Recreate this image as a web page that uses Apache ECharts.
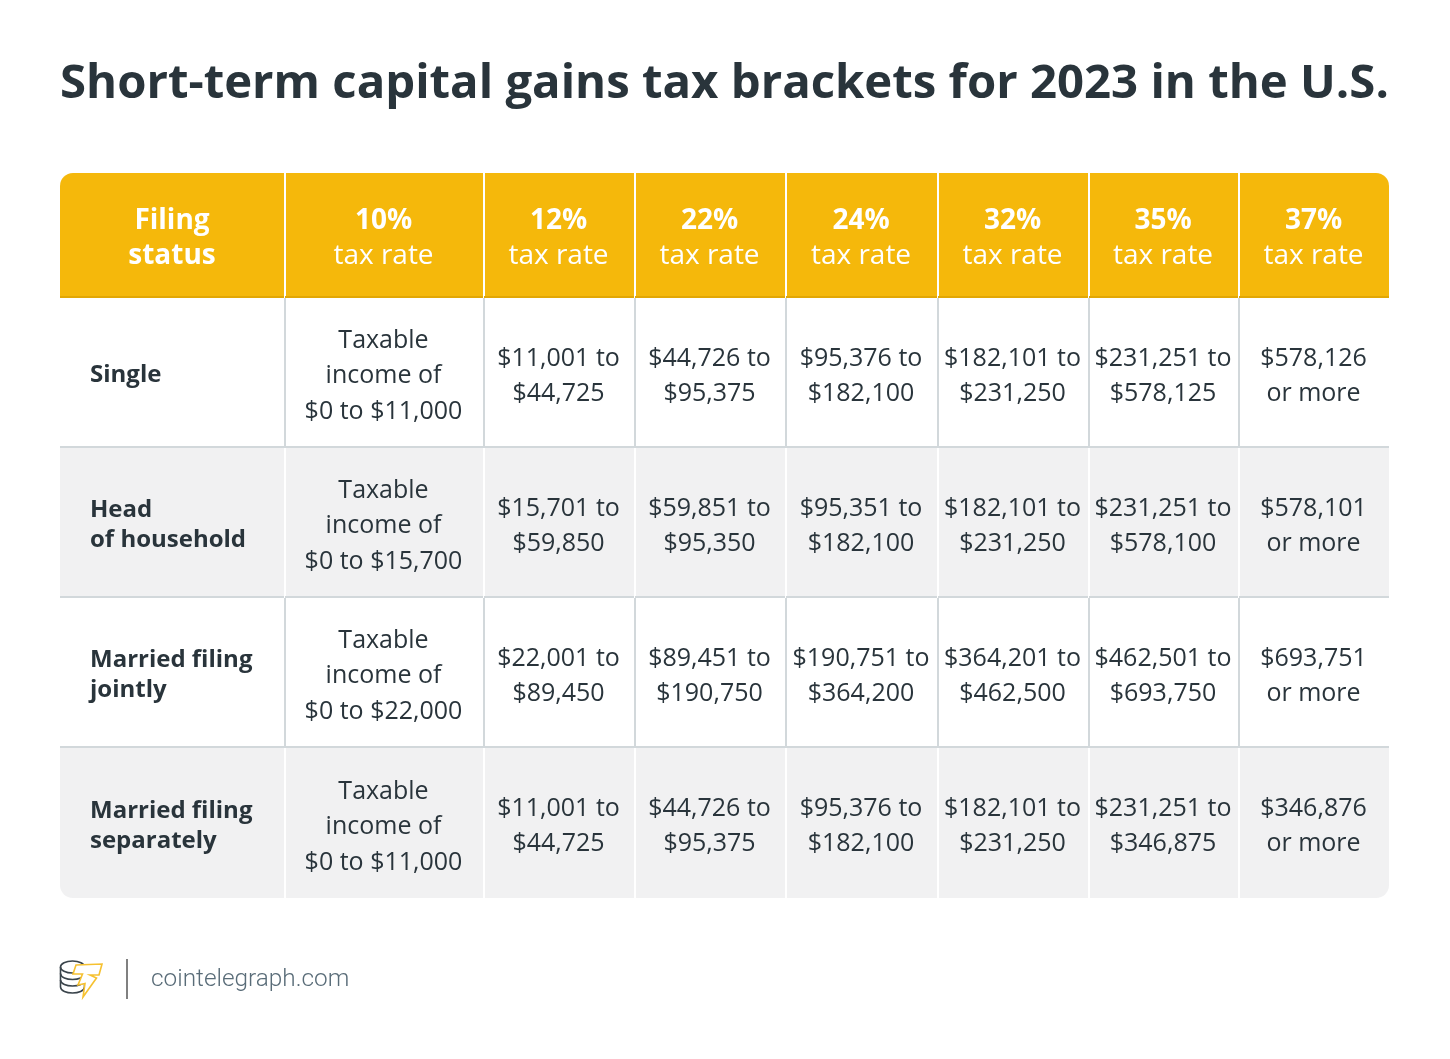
<!DOCTYPE html>
<html>
<head>
<meta charset="utf-8">
<style>
  html, body { margin: 0; padding: 0; background: #fff; }
  #chart { width: 1450px; height: 1059px; }
</style>
<script src="https://cdn.jsdelivr.net/npm/echarts@6/dist/echarts.min.js"></script>
</head>
<body>
<div id="chart"></div>
<script>
var titleText = 'Short-term capital gains tax brackets for 2023 in the U.S.';
var siteName = 'cointelegraph.com';

var filingHeader = 'Filing\nstatus';
var taxRates = ['10%', '12%', '22%', '24%', '32%', '35%', '37%'];
var filingStatus = ['Single', 'Head\nof household', 'Married filing\njointly', 'Married filing\nseparately'];

var rate10 = ['$0 to $11,000', '$0 to $15,700', '$0 to $22,000', '$0 to $11,000'];
var rate12 = ['$11,001 to\n$44,725', '$15,701 to\n$59,850', '$22,001 to\n$89,450', '$11,001 to\n$44,725'];
var rate22 = ['$44,726 to\n$95,375', '$59,851 to\n$95,350', '$89,451 to\n$190,750', '$44,726 to\n$95,375'];
var rate24 = ['$95,376 to\n$182,100', '$95,351 to\n$182,100', '$190,751 to\n$364,200', '$95,376 to\n$182,100'];
var rate32 = ['$182,101 to\n$231,250', '$182,101 to\n$231,250', '$364,201 to\n$462,500', '$182,101 to\n$231,250'];
var rate35 = ['$231,251 to\n$578,125', '$231,251 to\n$578,100', '$462,501 to\n$693,750', '$231,251 to\n$346,875'];
var rate37 = ['$578,126\nor more', '$578,101\nor more', '$693,751\nor more', '$346,876\nor more'];

// table layout, the axes run in page pixels
var colEdges = [60, 285, 484, 635, 786, 938, 1089, 1239, 1389];
var rowEdges = [173, 298, 448, 598, 748, 898];

var font = '"Open Sans", sans-serif';
var ink = '#29343b';
var yellow = '#f5b80b';
var yellowLine = '#e2a704';
var greyRow = '#f1f1f2';
var ruleGrey = '#d2d8db';
var coinInk = '#3a444b';
var boltInk = '#f6c130';

var rateCols = [rate10, rate12, rate22, rate24, rate32, rate35, rate37];

var cells = [];
for (var r = 0; r < rowEdges.length - 1; r++) {
  for (var c = 0; c < colEdges.length - 1; c++) {
    var txt;
    if (r === 0) txt = c === 0 ? filingHeader : '{b|' + taxRates[c - 1] + '}\n{n|tax rate}';
    else if (c === 0) txt = filingStatus[r - 1];
    else if (c === 1) txt = 'Taxable\nincome of\n' + rate10[r - 1];
    else txt = rateCols[c - 1][r - 1];
    cells.push({ value: [colEdges[c], rowEdges[r], colEdges[c + 1], rowEdges[r + 1], c, r], label: txt });
  }
}

var lastCol = colEdges.length - 2;
var lastRow = rowEdges.length - 2;

function cornerRadius(c, r) {
  if (r === 0 && c === 0) return [13, 0, 0, 0];
  if (r === 0 && c === lastCol) return [0, 13, 0, 0];
  if (r === lastRow && c === 0) return [0, 0, 0, 13];
  if (r === lastRow && c === lastCol) return [0, 0, 13, 0];
  return 0;
}

function renderCell(params, api) {
  var p0 = api.coord([api.value(0), api.value(1)]);
  var p1 = api.coord([api.value(2), api.value(3)]);
  var c = api.value(4), r = api.value(5);
  var w = p1[0] - p0[0], h = p1[1] - p0[1];
  var fill = r === 0 ? yellow : (r % 2 === 0 ? greyRow : '#fff');
  var text = cells[params.dataIndex].label;
  var cx = p0[0] + w / 2 + (c >= 7 ? -0.5 : -1);

  var kids = [{
    type: 'rect',
    shape: { x: p0[0], y: p0[1], width: w, height: h, r: cornerRadius(c, r) },
    style: { fill: fill }
  }];

  // column rule on the left side of each cell
  if (c > 0) {
    kids.push({
      type: 'rect',
      shape: { x: p0[0] - 1, y: p0[1], width: 2, height: h },
      style: { fill: r === 0 || r % 2 === 0 ? '#fff' : ruleGrey }
    });
  }
  // row rule under the cell
  if (r < lastRow) {
    kids.push({
      type: 'rect',
      shape: { x: p0[0], y: p1[1] - 2, width: w, height: 2 },
      style: { fill: r === 0 ? yellowLine : ruleGrey }
    });
  }

  var style;
  if (r === 0 && c === 0) {
    style = { x: cx + 0.5, y: p0[1] + h / 2 + 3, text: text, align: 'center', verticalAlign: 'middle',
      font: 'bold 28px ' + font, lineHeight: 35, fill: '#fff' };
  } else if (r === 0) {
    style = { x: cx, y: p0[1] + h / 2 + 3, text: text, align: 'center', verticalAlign: 'middle', fill: '#fff',
      rich: {
        b: { font: 'bold 28px ' + font, lineHeight: 35, fill: '#fff' },
        n: { font: '28px ' + font, lineHeight: 35, fill: '#fff' }
      } };
  } else if (c === 0) {
    style = { x: p0[0] + 30, y: p0[1] + h / 2 + 2 + (r === lastRow ? 1 : 0), text: text, align: 'left', verticalAlign: 'middle',
      font: 'bold 24px ' + font, lineHeight: 30, fill: ink };
  } else {
    // three line cells of the last row sit a pixel lower in the reference
    style = { x: cx, y: p0[1] + h / 2 + 3 + (c === 1 && r === lastRow ? 1 : 0), text: text, align: 'center', verticalAlign: 'middle',
      font: '25px ' + font, lineHeight: c === 1 ? 35.5 : 35, fill: ink };
  }
  kids.push({ type: 'text', style: style });

  return { type: 'group', children: kids };
}

function coinCurve(y) {
  return { type: 'bezierCurve',
    shape: { x1: 60.5, y1: y, cpx1: 61, cpy1: y + 8, cpx2: 84, cpy2: y + 8, x2: 84.5, y2: y },
    style: { fill: 'none', stroke: coinInk, lineWidth: 1.6 } };
}

var option = {
  animation: false,
  backgroundColor: '#fff',
  title: {
    text: titleText,
    left: 55,
    top: 48,
    textStyle: { fontFamily: font, fontWeight: 'bold', fontSize: 47.3, color: ink, lineHeight: 64 }
  },
  grid: { left: 60, top: 173, width: 1329, height: 725 },
  xAxis: { type: 'value', min: 60, max: 1389, show: false },
  yAxis: { type: 'value', min: 173, max: 898, inverse: true, show: false },
  series: [{
    type: 'custom',
    data: cells,
    encode: { x: [0, 2], y: [1, 3] },
    renderItem: renderCell,
    silent: true,
    clip: false
  }],
  graphic: [
    // coin stack
    { type: 'ellipse', shape: { cx: 72.5, cy: 967, rx: 12, ry: 6 }, style: { fill: '#fff', stroke: coinInk, lineWidth: 1.6 } },
    { type: 'line', shape: { x1: 60.5, y1: 967, x2: 60.5, y2: 987 }, style: { stroke: coinInk, lineWidth: 1.6 } },
    { type: 'line', shape: { x1: 84.5, y1: 967, x2: 84.5, y2: 987 }, style: { stroke: coinInk, lineWidth: 1.6 } },
    coinCurve(973.5),
    coinCurve(980),
    coinCurve(987),
    // bolt
    { type: 'polygon', shape: { points: [[76, 965], [102, 964], [99, 975], [90, 975], [96.5, 978], [83, 997], [85, 983.5], [78, 985], [82.5, 974], [73, 974]] }, style: { fill: '#fff', stroke: boltInk, lineWidth: 1.6 } },
    // divider and site name
    { type: 'rect', shape: { x: 126, y: 959, width: 2, height: 40 }, style: { fill: '#808080' } },
    { type: 'text', x: 151, y: 980, style: { text: siteName, font: '300 24.35px Roboto, sans-serif', fill: '#596c78', verticalAlign: 'middle' } }
  ]
};

var myChart = echarts.init(document.getElementById('chart'));
myChart.setOption(option);
</script>
</body>
</html>
